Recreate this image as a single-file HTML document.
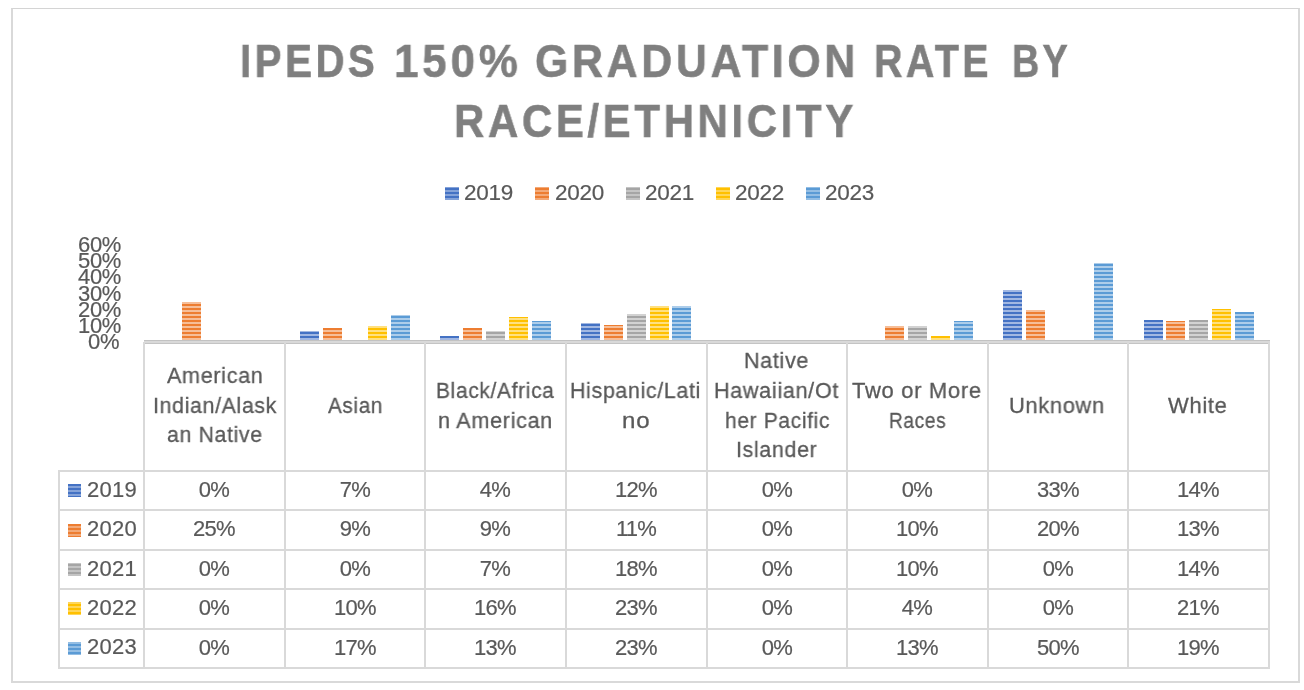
<!DOCTYPE html>
<html><head><meta charset="utf-8"><style>
*{margin:0;padding:0;box-sizing:border-box}
html,body{width:1304px;height:690px;background:#fff;overflow:hidden}
body{position:relative;font-family:"Liberation Sans",sans-serif;color:#595959}
.a{position:absolute}
.tw,.lg,.yl,.ch,.cv,.rh{will-change:transform}
.lg,.cv,.rh,.yl{-webkit-text-stroke:0.2px #595959}
.frame{position:absolute;left:11px;top:8px;width:1289px;height:675px;border:2px solid #d9d9d9;border-top:1px solid #d4d4d4}
.tw{position:absolute;font-weight:bold;color:#7f7f7f;-webkit-text-stroke:0.6px #7f7f7f;font-size:46px;letter-spacing:4px;white-space:nowrap;line-height:60px;transform-origin:0 0}
.lg{position:absolute;font-size:22.5px;line-height:22px;white-space:nowrap;letter-spacing:-0.3px}
.mk{position:absolute;width:13px;height:13px}
.yl{position:absolute;right:1183px;font-size:22px;line-height:16px;white-space:nowrap;text-align:right;letter-spacing:-0.3px}
.bar{position:absolute;width:19px}
.hl{position:absolute;height:2px;background:#d9d9d9}
.vl{position:absolute;width:2px;background:#d9d9d9}
.ch{position:absolute;font-size:22px;line-height:29.9px;white-space:nowrap;letter-spacing:0.7px;-webkit-text-stroke:0.3px #595959;transform-origin:0 0}
.cv{position:absolute;width:140.625px;text-align:center;font-size:22px;line-height:20px;white-space:nowrap;letter-spacing:-0.8px;text-indent:-0.8px}
.rh{position:absolute;left:86.5px;font-size:22px;line-height:20px;white-space:nowrap;letter-spacing:0.3px}
</style></head>
<body>
<div class="frame"></div>
<div class="tw" style="left:240.37px;top:31px;transform:scaleX(0.8752)">IPEDS</div>
<div class="tw" style="left:393.71px;top:31px;transform:scaleX(0.9548)">150%</div>
<div class="tw" style="left:535.45px;top:31px;transform:scaleX(0.9303)">GRADUATION</div>
<div class="tw" style="left:874.37px;top:31px;transform:scaleX(0.8564)">RATE</div>
<div class="tw" style="left:1011.59px;top:31px;transform:scaleX(0.8198)">BY</div>
<div class="tw" style="left:454.26px;top:91px;transform:scaleX(0.9118)">RACE/ETHNICITY</div>
<div class="mk" style="left:445px;top:187px;width:13.8px;background:linear-gradient(to bottom,#4472c4 0px,#4472c4 2px,#85a3d9 2px,#85a3d9 4px) 0 1px/100% 4px repeat"></div>
<div class="lg" style="left:464.3px;top:181.7px">2019</div>
<div class="mk" style="left:535.2px;top:187px;width:13.8px;background:linear-gradient(to bottom,#ed7d31 0px,#ed7d31 2px,#f3aa79 2px,#f3aa79 4px) 0 1px/100% 4px repeat"></div>
<div class="lg" style="left:554.5px;top:181.7px">2020</div>
<div class="mk" style="left:625.8px;top:187px;width:13.8px;background:linear-gradient(to bottom,#a5a5a5 0px,#a5a5a5 2px,#c4c4c4 2px,#c4c4c4 4px) 0 1px/100% 4px repeat"></div>
<div class="lg" style="left:645.0999999999999px;top:181.7px">2021</div>
<div class="mk" style="left:716px;top:187px;width:13.8px;background:linear-gradient(to bottom,#ffc000 0px,#ffc000 2px,#ffd659 2px,#ffd659 4px) 0 1px/100% 4px repeat"></div>
<div class="lg" style="left:735.3px;top:181.7px">2022</div>
<div class="mk" style="left:806px;top:187px;width:13.8px;background:linear-gradient(to bottom,#5b9bd5 0px,#5b9bd5 2px,#94bee4 2px,#94bee4 4px) 0 1px/100% 4px repeat"></div>
<div class="lg" style="left:825.3px;top:181.7px">2023</div>
<div class="yl" style="top:237.1px">60%</div>
<div class="yl" style="top:253.2px">50%</div>
<div class="yl" style="top:269.4px">40%</div>
<div class="yl" style="top:285.5px">30%</div>
<div class="yl" style="top:301.6px">20%</div>
<div class="yl" style="top:317.8px">10%</div>
<div class="yl" style="margin-right:2px;top:333.9px">0%</div>
<div class="bar" style="left:299.8px;top:331.0px;height:9.0px;background:linear-gradient(to bottom,#4472c4 0px,#4472c4 2px,#a2b8e2 2px,#a2b8e2 4px) 0 1px/100% 4px repeat"></div>
<div class="bar" style="left:440.4px;top:336.0px;height:4.0px;background:linear-gradient(to bottom,#4472c4 0px,#4472c4 2px,#a2b8e2 2px,#a2b8e2 4px) 0 0px/100% 4px repeat"></div>
<div class="bar" style="left:581.1px;top:323.0px;height:17.0px;background:linear-gradient(to bottom,#4472c4 0px,#4472c4 2px,#a2b8e2 2px,#a2b8e2 4px) 0 1px/100% 4px repeat"></div>
<div class="bar" style="left:1003.0px;top:290.0px;height:50.0px;background:linear-gradient(to bottom,#4472c4 0px,#4472c4 2px,#a2b8e2 2px,#a2b8e2 4px) 0 2px/100% 4px repeat"></div>
<div class="bar" style="left:1143.6px;top:320.0px;height:20.0px;background:linear-gradient(to bottom,#4472c4 0px,#4472c4 2px,#a2b8e2 2px,#a2b8e2 4px) 0 0px/100% 4px repeat"></div>
<div class="bar" style="left:182.0px;top:302.0px;height:38.0px;background:linear-gradient(to bottom,#ed7d31 0px,#ed7d31 2px,#f6be98 2px,#f6be98 4px) 0 2px/100% 4px repeat"></div>
<div class="bar" style="left:322.6px;top:328.0px;height:12.0px;background:linear-gradient(to bottom,#ed7d31 0px,#ed7d31 2px,#f6be98 2px,#f6be98 4px) 0 0px/100% 4px repeat"></div>
<div class="bar" style="left:463.2px;top:328.0px;height:12.0px;background:linear-gradient(to bottom,#ed7d31 0px,#ed7d31 2px,#f6be98 2px,#f6be98 4px) 0 0px/100% 4px repeat"></div>
<div class="bar" style="left:603.9px;top:325.0px;height:15.0px;background:linear-gradient(to bottom,#ed7d31 0px,#ed7d31 2px,#f6be98 2px,#f6be98 4px) 0 3px/100% 4px repeat"></div>
<div class="bar" style="left:885.1px;top:326.0px;height:14.0px;background:linear-gradient(to bottom,#ed7d31 0px,#ed7d31 2px,#f6be98 2px,#f6be98 4px) 0 2px/100% 4px repeat"></div>
<div class="bar" style="left:1025.8px;top:310.0px;height:30.0px;background:linear-gradient(to bottom,#ed7d31 0px,#ed7d31 2px,#f6be98 2px,#f6be98 4px) 0 2px/100% 4px repeat"></div>
<div class="bar" style="left:1166.4px;top:321.0px;height:19.0px;background:linear-gradient(to bottom,#ed7d31 0px,#ed7d31 2px,#f6be98 2px,#f6be98 4px) 0 3px/100% 4px repeat"></div>
<div class="bar" style="left:486.1px;top:331.0px;height:9.0px;background:linear-gradient(to bottom,#a5a5a5 0px,#a5a5a5 2px,#d2d2d2 2px,#d2d2d2 4px) 0 1px/100% 4px repeat"></div>
<div class="bar" style="left:626.7px;top:314.0px;height:26.0px;background:linear-gradient(to bottom,#a5a5a5 0px,#a5a5a5 2px,#d2d2d2 2px,#d2d2d2 4px) 0 2px/100% 4px repeat"></div>
<div class="bar" style="left:907.9px;top:326.0px;height:14.0px;background:linear-gradient(to bottom,#a5a5a5 0px,#a5a5a5 2px,#d2d2d2 2px,#d2d2d2 4px) 0 2px/100% 4px repeat"></div>
<div class="bar" style="left:1189.2px;top:320.0px;height:20.0px;background:linear-gradient(to bottom,#a5a5a5 0px,#a5a5a5 2px,#d2d2d2 2px,#d2d2d2 4px) 0 0px/100% 4px repeat"></div>
<div class="bar" style="left:368.2px;top:326.0px;height:14.0px;background:linear-gradient(to bottom,#ffc000 0px,#ffc000 2px,#ffe080 2px,#ffe080 4px) 0 2px/100% 4px repeat"></div>
<div class="bar" style="left:508.9px;top:317.0px;height:23.0px;background:linear-gradient(to bottom,#ffc000 0px,#ffc000 2px,#ffe080 2px,#ffe080 4px) 0 3px/100% 4px repeat"></div>
<div class="bar" style="left:649.5px;top:306.0px;height:34.0px;background:linear-gradient(to bottom,#ffc000 0px,#ffc000 2px,#ffe080 2px,#ffe080 4px) 0 2px/100% 4px repeat"></div>
<div class="bar" style="left:930.7px;top:336.0px;height:4.0px;background:linear-gradient(to bottom,#ffc000 0px,#ffc000 2px,#ffe080 2px,#ffe080 4px) 0 0px/100% 4px repeat"></div>
<div class="bar" style="left:1212.0px;top:309.0px;height:31.0px;background:linear-gradient(to bottom,#ffc000 0px,#ffc000 2px,#ffe080 2px,#ffe080 4px) 0 3px/100% 4px repeat"></div>
<div class="bar" style="left:391.0px;top:315.0px;height:25.0px;background:linear-gradient(to bottom,#5b9bd5 0px,#5b9bd5 2px,#adcdea 2px,#adcdea 4px) 0 1px/100% 4px repeat"></div>
<div class="bar" style="left:531.6px;top:321.0px;height:19.0px;background:linear-gradient(to bottom,#5b9bd5 0px,#5b9bd5 2px,#adcdea 2px,#adcdea 4px) 0 3px/100% 4px repeat"></div>
<div class="bar" style="left:672.3px;top:306.0px;height:34.0px;background:linear-gradient(to bottom,#5b9bd5 0px,#5b9bd5 2px,#adcdea 2px,#adcdea 4px) 0 2px/100% 4px repeat"></div>
<div class="bar" style="left:953.5px;top:321.0px;height:19.0px;background:linear-gradient(to bottom,#5b9bd5 0px,#5b9bd5 2px,#adcdea 2px,#adcdea 4px) 0 3px/100% 4px repeat"></div>
<div class="bar" style="left:1094.2px;top:263.0px;height:77.0px;background:linear-gradient(to bottom,#5b9bd5 0px,#5b9bd5 2px,#adcdea 2px,#adcdea 4px) 0 1px/100% 4px repeat"></div>
<div class="bar" style="left:1234.8px;top:312.0px;height:28.0px;background:linear-gradient(to bottom,#5b9bd5 0px,#5b9bd5 2px,#adcdea 2px,#adcdea 4px) 0 0px/100% 4px repeat"></div>
<div class="hl" style="left:144.0px;top:340px;width:1126.0px;height:4px;background:linear-gradient(#c2c2c2 0 1px,#d9d9d9 1px 3px,#c4c4c4 3px 4px)"></div>
<div class="hl" style="left:58.5px;top:470.0px;width:1211.5px"></div>
<div class="hl" style="left:58.5px;top:509.4px;width:1211.5px"></div>
<div class="hl" style="left:58.5px;top:548.8px;width:1211.5px"></div>
<div class="hl" style="left:58.5px;top:588.2px;width:1211.5px"></div>
<div class="hl" style="left:58.5px;top:627.6px;width:1211.5px"></div>
<div class="hl" style="left:58.5px;top:667.0px;width:1211.5px"></div>
<div class="vl" style="left:143.0px;top:342px;height:327px"></div>
<div class="vl" style="left:283.6px;top:342px;height:327px"></div>
<div class="vl" style="left:424.2px;top:342px;height:327px"></div>
<div class="vl" style="left:564.9px;top:342px;height:327px"></div>
<div class="vl" style="left:705.5px;top:342px;height:327px"></div>
<div class="vl" style="left:846.1px;top:342px;height:327px"></div>
<div class="vl" style="left:986.8px;top:342px;height:327px"></div>
<div class="vl" style="left:1127.4px;top:342px;height:327px"></div>
<div class="vl" style="left:1268.0px;top:342px;height:327px"></div>
<div class="vl" style="left:58.3px;top:470px;height:199px"></div>
<div class="ch" style="left:167.00px;top:360.6px;transform:scaleX(0.9794)">American</div>
<div class="ch" style="left:153.07px;top:390.5px;transform:scaleX(0.9672)">Indian/Alask</div>
<div class="ch" style="left:166.62px;top:420.4px;transform:scaleX(0.9650)">an Native</div>
<div class="ch" style="left:327.60px;top:390.6px;transform:scaleX(0.9404)">Asian</div>
<div class="ch" style="left:435.86px;top:375.6px;transform:scaleX(0.9521)">Black/Africa</div>
<div class="ch" style="left:438.03px;top:405.5px;transform:scaleX(0.9825)">n American</div>
<div class="ch" style="left:570.22px;top:375.6px;transform:scaleX(0.9697)">Hispanic/Lati</div>
<div class="ch" style="left:622.28px;top:405.5px;transform:scaleX(1.0925)">no</div>
<div class="ch" style="left:744.21px;top:345.7px;transform:scaleX(0.9782)">Native</div>
<div class="ch" style="left:714.22px;top:375.6px;transform:scaleX(0.9802)">Hawaiian/Ot</div>
<div class="ch" style="left:725.26px;top:405.5px;transform:scaleX(0.9519)">her Pacific</div>
<div class="ch" style="left:736.06px;top:435.4px;transform:scaleX(0.9704)">Islander</div>
<div class="ch" style="left:851.60px;top:375.6px;transform:scaleX(0.9985)">Two or More</div>
<div class="ch" style="left:888.97px;top:405.5px;transform:scaleX(0.8688)">Races</div>
<div class="ch" style="left:1009.01px;top:390.6px;transform:scaleX(0.9915)">Unknown</div>
<div class="ch" style="left:1168.00px;top:390.6px;transform:scaleX(0.9967)">White</div>
<div class="mk" style="left:68px;top:484px;width:13px;height:13px;background:linear-gradient(to bottom,#4472c4 0px,#4472c4 2px,#85a3d9 2px,#85a3d9 4px) 0 0px/100% 4px repeat"></div>
<div class="rh" style="top:479.7px">2019</div>
<div class="cv" style="left:144.0px;top:480.0px">0%</div>
<div class="cv" style="left:284.6px;top:480.0px">7%</div>
<div class="cv" style="left:425.2px;top:480.0px">4%</div>
<div class="cv" style="left:565.9px;top:480.0px">12%</div>
<div class="cv" style="left:706.5px;top:480.0px">0%</div>
<div class="cv" style="left:847.1px;top:480.0px">0%</div>
<div class="cv" style="left:987.8px;top:480.0px">33%</div>
<div class="cv" style="left:1128.4px;top:480.0px">14%</div>
<div class="mk" style="left:68px;top:524px;width:13px;height:13px;background:linear-gradient(to bottom,#ed7d31 0px,#ed7d31 2px,#f3aa79 2px,#f3aa79 4px) 0 0px/100% 4px repeat"></div>
<div class="rh" style="top:519.1px">2020</div>
<div class="cv" style="left:144.0px;top:519.4px">25%</div>
<div class="cv" style="left:284.6px;top:519.4px">9%</div>
<div class="cv" style="left:425.2px;top:519.4px">9%</div>
<div class="cv" style="left:565.9px;top:519.4px">11%</div>
<div class="cv" style="left:706.5px;top:519.4px">0%</div>
<div class="cv" style="left:847.1px;top:519.4px">10%</div>
<div class="cv" style="left:987.8px;top:519.4px">20%</div>
<div class="cv" style="left:1128.4px;top:519.4px">13%</div>
<div class="mk" style="left:68px;top:563px;width:13px;height:13px;background:linear-gradient(to bottom,#a5a5a5 0px,#a5a5a5 2px,#c4c4c4 2px,#c4c4c4 4px) 0 1px/100% 4px repeat"></div>
<div class="rh" style="top:558.5px">2021</div>
<div class="cv" style="left:144.0px;top:558.8px">0%</div>
<div class="cv" style="left:284.6px;top:558.8px">0%</div>
<div class="cv" style="left:425.2px;top:558.8px">7%</div>
<div class="cv" style="left:565.9px;top:558.8px">18%</div>
<div class="cv" style="left:706.5px;top:558.8px">0%</div>
<div class="cv" style="left:847.1px;top:558.8px">10%</div>
<div class="cv" style="left:987.8px;top:558.8px">0%</div>
<div class="cv" style="left:1128.4px;top:558.8px">14%</div>
<div class="mk" style="left:68px;top:602px;width:13px;height:13px;background:linear-gradient(to bottom,#ffc000 0px,#ffc000 2px,#ffd659 2px,#ffd659 4px) 0 2px/100% 4px repeat"></div>
<div class="rh" style="top:597.9px">2022</div>
<div class="cv" style="left:144.0px;top:598.2px">0%</div>
<div class="cv" style="left:284.6px;top:598.2px">10%</div>
<div class="cv" style="left:425.2px;top:598.2px">16%</div>
<div class="cv" style="left:565.9px;top:598.2px">23%</div>
<div class="cv" style="left:706.5px;top:598.2px">0%</div>
<div class="cv" style="left:847.1px;top:598.2px">4%</div>
<div class="cv" style="left:987.8px;top:598.2px">0%</div>
<div class="cv" style="left:1128.4px;top:598.2px">21%</div>
<div class="mk" style="left:68px;top:642px;width:13px;height:13px;background:linear-gradient(to bottom,#5b9bd5 0px,#5b9bd5 2px,#94bee4 2px,#94bee4 4px) 0 2px/100% 4px repeat"></div>
<div class="rh" style="top:637.3px">2023</div>
<div class="cv" style="left:144.0px;top:637.6px">0%</div>
<div class="cv" style="left:284.6px;top:637.6px">17%</div>
<div class="cv" style="left:425.2px;top:637.6px">13%</div>
<div class="cv" style="left:565.9px;top:637.6px">23%</div>
<div class="cv" style="left:706.5px;top:637.6px">0%</div>
<div class="cv" style="left:847.1px;top:637.6px">13%</div>
<div class="cv" style="left:987.8px;top:637.6px">50%</div>
<div class="cv" style="left:1128.4px;top:637.6px">19%</div>
</body></html>
